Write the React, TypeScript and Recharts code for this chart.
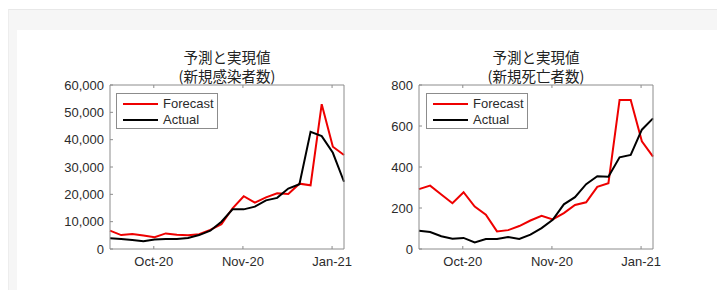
import { LineChart, Line, XAxis, YAxis, Legend } from "recharts";

// weekly points, 22 of them
const weeks = [0, 1, 2, 3, 4, 5, 6, 7, 8, 9, 10, 11, 12, 13, 14, 15, 16, 17, 18, 19, 20, 21];

// 新規感染者数
const casesForecast = [6700, 5100, 5500, 4900, 4300, 5700, 5200, 5000, 5400, 7000, 9100, 14900, 19300, 17000, 18900, 20400, 20100, 23900, 23300, 53000, 37400, 34400];
const casesActual = [3900, 3700, 3300, 2800, 3500, 3700, 3700, 4000, 5100, 6700, 10000, 14500, 14500, 15500, 17800, 18700, 22100, 23700, 42900, 41300, 35200, 24600];

// 新規死亡者数
const deathsForecast = [292, 309, 266, 223, 277, 207, 167, 86, 92, 112, 139, 162, 144, 175, 215, 228, 303, 321, 727, 727, 525, 451];
const deathsActual = [89, 83, 62, 50, 54, 32, 49, 49, 58, 49, 70, 102, 142, 218, 253, 316, 355, 352, 447, 459, 582, 637];

const seriesNames = ["Forecast", "Actual"];
const xTickPos = [3.93, 11.93, 19.93];
const xTickLabels = ["Oct-20", "Nov-20", "Jan-21"];
const caseTicks = [0, 10000, 20000, 30000, 40000, 50000, 60000];
const deathTicks = [0, 200, 400, 600, 800];

const FONT = '"Liberation Sans", Arial, Helvetica, sans-serif';
const CJK = '"Noto Sans CJK JP", "Noto Sans CJK SC", sans-serif';
const FRAME = "#8c8c8c";
const TEXT = "#2b2b2b";
const RED = "#ee0000";
const TICK_LEN = 3;

const LeftTick = (props: any) => {
  const { x, y, payload } = props;
  return (
    <g>
      <line x1={x} y1={y} x2={x + TICK_LEN} y2={y} stroke={FRAME} />
      <text x={x - 6} y={y} dy="0.36em" textAnchor="end" fontSize={13} fill={TEXT} fontFamily={FONT}>
        {Number(payload.value).toLocaleString("en-US")}
      </text>
    </g>
  );
};

const RightTick = (props: any) => {
  const { x, y } = props;
  return <line x1={x} y1={y} x2={x - TICK_LEN} y2={y} stroke={FRAME} />;
};

const BottomTick = (props: any) => {
  const { x, y, payload } = props;
  const i = xTickPos.indexOf(payload.value);
  return (
    <g>
      <line x1={x} y1={y} x2={x} y2={y - TICK_LEN} stroke={FRAME} />
      <text x={x} y={y + 17} textAnchor="middle" fontSize={13} fill={TEXT} fontFamily={FONT}>
        {xTickLabels[i]}
      </text>
    </g>
  );
};

const TopTick = (props: any) => {
  const { x, y } = props;
  return <line x1={x} y1={y} x2={x} y2={y + TICK_LEN} stroke={FRAME} />;
};

const BoxLegend = (props: any) => {
  const items = [...(props.payload || [])].sort(
    (a: any, b: any) => seriesNames.indexOf(a.value) - seriesNames.indexOf(b.value)
  );
  return (
    <div
      style={{
        position: "relative",
        width: 102,
        height: 36,
        boxSizing: "border-box",
        border: `1px solid ${FRAME}`,
        background: "#fff",
        fontFamily: FONT,
        fontSize: 13,
        color: TEXT,
      }}
    >
      {items.map((p: any, i: number) => (
        <div key={p.value} style={{ position: "absolute", left: 0, top: 2 + i * 15.5, height: 16, width: 100 }}>
          <span style={{ position: "absolute", left: 6, top: 7, width: 35, height: 2, background: p.color }} />
          <span style={{ position: "absolute", left: 46, top: 0, lineHeight: "16px" }}>{p.value}</span>
        </div>
      ))}
    </div>
  );
};

type PanelProps = {
  left: number;
  width: number;
  plotLeft: number;
  forecast: number[];
  actual: number[];
  yMax: number;
  yTicks: number[];
  title2: string;
  legendLeft: number;
};

function Panel({ left, width, plotLeft, forecast, actual, yMax, yTicks, title2, legendLeft }: PanelProps) {
  const data = weeks.map((w, i) => ({ week: w, forecast: forecast[i], actual: actual[i] }));
  const height = 250;
  // axes take 1px each, so margins are 1px smaller than the plot offsets
  const margin = { top: 54, right: 16, bottom: 30, left: plotLeft - 1 };
  const plotCenter = plotLeft + (width - plotLeft - 17) / 2;
  return (
    <div style={{ position: "absolute", left, top: 30, width, height }}>
      <div
        style={{
          position: "absolute",
          left: plotCenter - 100,
          width: 200,
          top: 18,
          textAlign: "center",
          whiteSpace: "pre-line",
          fontFamily: CJK,
          fontSize: 14.5,
          lineHeight: "18.5px",
          color: "#222",
        }}
      >
        {"予測と実現値\n" + title2}
      </div>
      <LineChart width={width} height={height} data={data} margin={margin}>
        <XAxis
          dataKey="week"
          type="number"
          domain={[0, 21]}
          ticks={xTickPos}
          interval={0}
          height={1}
          tickSize={0}
          tickMargin={0}
          tick={<BottomTick />}
          axisLine={{ stroke: FRAME }}
        />
        <XAxis
          xAxisId="top"
          orientation="top"
          dataKey="week"
          type="number"
          domain={[0, 21]}
          ticks={xTickPos}
          interval={0}
          height={1}
          tickSize={0}
          tickMargin={0}
          tick={<TopTick />}
          axisLine={{ stroke: FRAME }}
        />
        <YAxis
          type="number"
          domain={[0, yMax]}
          ticks={yTicks}
          interval={0}
          width={1}
          tickSize={0}
          tickMargin={0}
          tick={<LeftTick />}
          axisLine={{ stroke: FRAME }}
        />
        <YAxis
          yAxisId="right"
          orientation="right"
          type="number"
          domain={[0, yMax]}
          ticks={yTicks}
          interval={0}
          width={1}
          tickSize={0}
          tickMargin={0}
          tick={<RightTick />}
          axisLine={{ stroke: FRAME }}
        />
        <Legend
          layout="vertical"
          align="center"
          verticalAlign="middle"
          content={<BoxLegend />}
          wrapperStyle={{ left: legendLeft, top: 63, width: 102, height: 36 }}
        />
        <Line
          type="linear"
          dataKey="forecast"
          name={seriesNames[0]}
          stroke={RED}
          strokeWidth={2}
          dot={false}
          isAnimationActive={false}
        />
        <Line
          type="linear"
          dataKey="actual"
          name={seriesNames[1]}
          stroke="#000"
          strokeWidth={2}
          dot={false}
          isAnimationActive={false}
        />
      </LineChart>
    </div>
  );
}

export default function App() {
  return (
    <div style={{ position: "absolute", left: 0, top: 0, width: 717, height: 290, background: "#fff", overflow: "hidden" }}>
      <div
        style={{
          position: "absolute",
          left: 8,
          top: 9,
          right: 0,
          bottom: 0,
          background: "#f6f6f6",
          borderTop: "1px solid #e8e8e8",
          borderLeft: "1px solid #ededed",
        }}
      />
      <div style={{ position: "absolute", left: 17, top: 30, right: 0, bottom: 0, background: "#fff" }} />
      <Panel
        left={20}
        width={341}
        plotLeft={90}
        forecast={casesForecast}
        actual={casesActual}
        yMax={60000}
        yTicks={caseTicks}
        title2="(新規感染者数)"
        legendLeft={96}
      />
      <Panel
        left={370}
        width={300}
        plotLeft={49}
        forecast={deathsForecast}
        actual={deathsActual}
        yMax={800}
        yTicks={deathTicks}
        title2="(新規死亡者数)"
        legendLeft={56}
      />
    </div>
  );
}
